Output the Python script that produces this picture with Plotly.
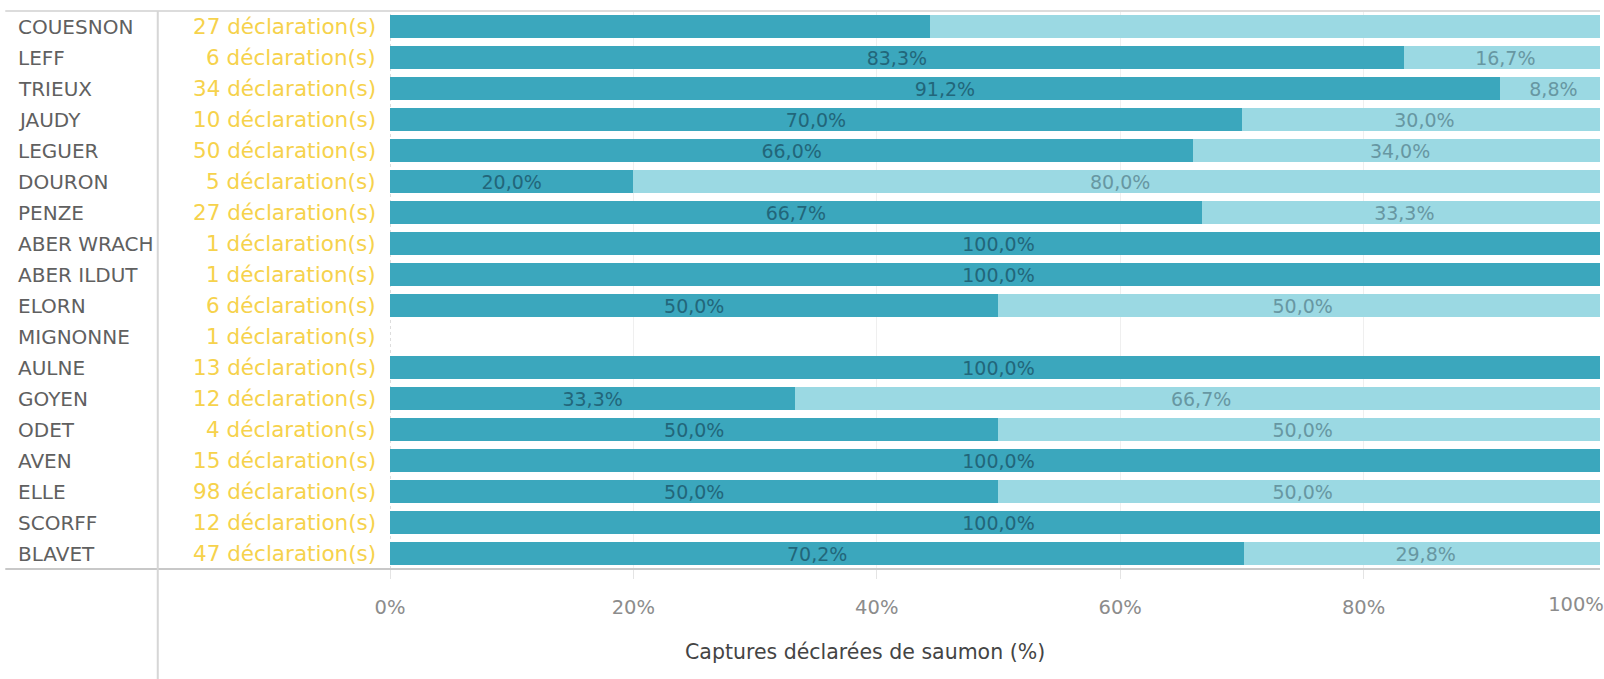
import plotly.graph_objects as go

rivers = ["COUESNON", "LEFF", "TRIEUX", "JAUDY", "LEGUER", "DOURON", "PENZE",
          "ABER WRACH", "ABER ILDUT", "ELORN", "MIGNONNE", "AULNE", "GOYEN",
          "ODET", "AVEN", "ELLE", "SCORFF", "BLAVET"]
declarations = [27, 6, 34, 10, 50, 5, 27, 1, 1, 6, 1, 13, 12, 4, 15, 98, 12, 47]
pct_dark = [44.4, 83.3, 91.2, 70.0, 66.0, 20.0, 66.7, 100.0, 100.0, 50.0, None,
            100.0, 33.3, 50.0, 100.0, 50.0, 100.0, 70.2]
pct_light = [55.6, 16.7, 8.8, 30.0, 34.0, 80.0, 33.3, 0.0, 0.0, 50.0, None,
             0.0, 66.7, 50.0, 0.0, 50.0, 0.0, 29.8]
show_labels = [False] + [True] * 17
x_ticks = [0, 20, 40, 60, 80]
x_ticks_text = ["0%", "20%", "40%", "60%", "80%"]
x_end_tick = [100]
x_end_tick_text = ["100%"]
axis_title = "Captures déclarées de saumon (%)"

W, H = 1604, 679
L, R, T, B = 390, 0, 11, 110
PW, PH = W - L - R, H - T - B
X_MAX = 99.43  # the reference pane is cropped slightly before 100 %
def px_x(p):
    return (p - L) / PW
def px_y(p):
    return 1 - (p - T) / PH

FONT = "DejaVu Sans"
DARK = "#3ba7bd"
LIGHT = "#9bd9e3"

def fmt(v, show):
    if v is None or v == 0 or not show:
        return ""
    return f"{v:.1f}".replace(".", ",") + "%"

fig = go.Figure()
fig.add_trace(go.Bar(
    y=rivers, x=pct_dark, orientation="h", marker=dict(color=DARK, line=dict(width=0)),
    text=[fmt(v, s) for v, s in zip(pct_dark, show_labels)],
    textposition="inside", insidetextanchor="middle", constraintext="none",
    textfont=dict(family=FONT, size=19, color="#22667a"), hoverinfo="skip"))
fig.add_trace(go.Bar(
    y=rivers, x=pct_light, orientation="h", marker=dict(color=LIGHT, line=dict(width=0)),
    text=[fmt(v, s) for v, s in zip(pct_light, show_labels)],
    textposition="inside", insidetextanchor="middle", constraintext="none",
    textfont=dict(family=FONT, size=19, color="#6797a2"), hoverinfo="skip"))

for r, d in zip(rivers, declarations):
    fig.add_annotation(x=px_x(15), xref="paper", y=r, yref="y", text=r,
                       showarrow=False, xanchor="left", yanchor="middle",
                       font=dict(family=FONT, size=20, color="#606060"))
    fig.add_annotation(x=px_x(378), xref="paper", y=r, yref="y", text=f"{d} déclaration(s)",
                       showarrow=False, xanchor="right", yanchor="middle",
                       font=dict(family=FONT, size=21.5, color="#f6d24c"))

fig.add_annotation(x=px_x(867), xref="paper", y=px_y(652), yref="paper", text=axis_title,
                   showarrow=False, xanchor="center", yanchor="middle",
                   font=dict(family=FONT, size=20.5, color="#444444"))

# frame lines
fig.add_shape(type="line", xref="paper", yref="paper", x0=px_x(4), x1=1, y0=1, y1=1,
              line=dict(color="#dcdcdc", width=2))
fig.add_shape(type="line", xref="paper", yref="paper", x0=px_x(4), x1=1, y0=0, y1=0,
              line=dict(color="#c8c8c8", width=2))
fig.add_shape(type="line", xref="paper", yref="paper", x0=px_x(157), x1=px_x(157),
              y0=1, y1=px_y(H), line=dict(color="#d6d6d6", width=2))
fig.add_shape(type="line", xref="x", yref="paper", x0=0, x1=0, y0=0, y1=1,
              line=dict(color="#bbbbbb", width=1, dash="dot"), layer="below")

tickfont = dict(family=FONT, size=19.5, color="#8c8c8c")
fig.update_layout(
    width=W, height=H, margin=dict(l=L, r=R, t=T, b=B, pad=0),
    barmode="stack", bargap=0.24, showlegend=False,
    plot_bgcolor="white", paper_bgcolor="white",
    uniformtext=dict(minsize=19, mode="show"),
    xaxis=dict(range=[0, X_MAX], tickvals=x_ticks, ticktext=x_ticks_text, showgrid=True,
               gridcolor="#efefef", gridwidth=1, zeroline=False, showline=False,
               ticks="outside", ticklen=9, tickcolor="#e4e4e4", ticklabelstandoff=12,
               tickfont=tickfont, fixedrange=True),
    xaxis2=dict(range=[0, 100], overlaying="x", side="bottom", tickvals=x_end_tick,
                ticktext=x_end_tick_text, showgrid=False, zeroline=False, showline=False,
                ticks="", ticklabelstandoff=21, ticklabelshift=-24,
                ticklabeloverflow="allow", tickfont=tickfont, fixedrange=True),
    yaxis=dict(autorange="reversed", showticklabels=False, showgrid=False,
               zeroline=False, showline=False, fixedrange=True),
)
# invisible helper trace so the secondary axis is drawn
fig.add_trace(go.Scatter(x=[None], y=[None], xaxis="x2", yaxis="y", showlegend=False,
                         hoverinfo="skip"))

fig.write_html("out.html", config={"displayModeBar": False, "staticPlot": True},
               post_script="document.body.style.margin='0';document.body.style.overflow='hidden';")
